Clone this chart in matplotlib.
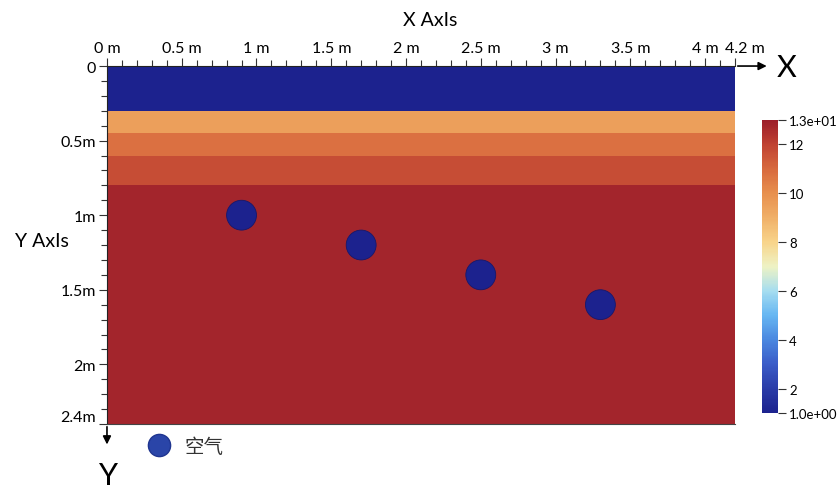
"""
plot.py
Layered ground model with buried air voids, drawn as a depth section
(x to the right, depth downward) with a custom blue-to-red colour scale.
"""

import numpy as np
import matplotlib

matplotlib.use("Agg")
import matplotlib.pyplot as plt
from matplotlib.colors import LinearSegmentedColormap, Normalize
from matplotlib.patches import Circle
from matplotlib.lines import Line2D
from matplotlib.transforms import ScaledTranslation

plt.rcParams["font.family"] = ["Lato", "Noto Sans CJK SC"]

# --- data -----------------------------------------------------------------
X_EXTENT = [0.0, 4.2]                               # m
layer_edges = [0.0, 0.3, 0.45, 0.6, 0.8, 2.4]       # depth of layer bounds (m)
layer_values = [1.0, 9.5, 10.8, 11.7, 12.8]         # value of each layer

void_x = [0.9, 1.7, 2.5, 3.3]                       # void centres (m)
void_y = [1.0, 1.2, 1.4, 1.6]
void_r = [0.1, 0.1, 0.1, 0.1]
void_value = 1.0
void_label = "空气"

x_ticks = [0, 0.5, 1, 1.5, 2, 2.5, 3, 3.5, 4, 4.2]
x_tick_labels = ["0 m", "0.5 m", "1 m", "1.5 m", "2 m", "2.5 m",
                 "3 m", "3.5 m", "4 m", "4.2 m"]
y_ticks = [0, 0.5, 1, 1.5, 2, 2.4]
y_tick_labels = ["0", "0.5m", "1m", "1.5m", "2m", "2.4m"]

cbar_ticks = [1, 2, 4, 6, 8, 10, 12, 13]
cbar_tick_labels = ["1.0e+00", "2", "4", "6", "8", "10", "12", "1.3e+01"]
VMIN, VMAX = 1.0, 13.0

# colour scale nodes (value, colour)
cmap_nodes = [
    (1.0, "#1c228e"), (2.0, "#2a3ca8"), (3.0, "#3a5cc8"), (4.0, "#4a88e0"),
    (5.0, "#66b6f2"), (6.0, "#a6ddf0"), (7.0, "#eef2c4"), (8.0, "#f8d48a"),
    (9.0, "#f0b068"), (10.0, "#e8904e"), (11.0, "#d86a3e"), (12.0, "#c04232"),
    (13.0, "#9c1e2a"),
]
cmap = LinearSegmentedColormap.from_list(
    "ground", [((v - VMIN) / (VMAX - VMIN), c) for v, c in cmap_nodes])
norm = Normalize(VMIN, VMAX)

# --- figure -----------------------------------------------------------------
fig = plt.figure(figsize=(8.39, 4.89), dpi=100)
ax = fig.add_axes([0.1275, 0.1309, 0.7485, 0.732])

grid = np.array(layer_values).reshape(-1, 1)
mesh = ax.pcolormesh(X_EXTENT, layer_edges, grid, cmap=cmap, norm=norm,
                     shading="flat")

for cx, cy, r in zip(void_x, void_y, void_r):
    ax.add_patch(Circle((cx, cy), r, facecolor=cmap(norm(void_value)),
                        edgecolor="#17186a", linewidth=0.6, zorder=3))

ax.set_xlim(X_EXTENT)
ax.set_ylim(layer_edges[-1], layer_edges[0])

# ticks: x on top, y on left
ax.xaxis.tick_top()
ax.set_xticks(x_ticks)
ax.set_xticklabels(x_tick_labels, fontsize=11.5)
ax.set_xticks(np.arange(0, 4.21, 0.1), minor=True)
ax.set_yticks(y_ticks)
ax.set_yticklabels(y_tick_labels, fontsize=11.5)
ax.set_yticks(np.arange(0, 2.41, 0.1), minor=True)
ax.tick_params(which="major", length=6, width=0.8, color="#333333", pad=2)
ax.tick_params(which="minor", length=4, width=0.8, color="#333333")
ax.get_yticklabels()[-1].set_va("bottom")

# the last two x labels sit close together; nudge the end label right
last = ax.xaxis.get_major_ticks()[-1].label2
last.set_transform(last.get_transform()
                   + ScaledTranslation(10 / 100, 0, fig.dpi_scale_trans))

ax.spines["right"].set_visible(False)
ax.spines["bottom"].set_color("#444444")
ax.spines["top"].set_color("#222222")
ax.spines["left"].set_color("#222222")

# axis arrows
ax.annotate("", xy=(1.055, 1.0), xytext=(1.0, 1.0), xycoords="axes fraction",
            arrowprops=dict(arrowstyle="-|>", color="black", lw=1.2,
                            mutation_scale=12), annotation_clip=False)
ax.annotate("", xy=(0.0, -0.065), xytext=(0.0, 0.0), xycoords="axes fraction",
            arrowprops=dict(arrowstyle="-|>", color="black", lw=1.2,
                            mutation_scale=12), annotation_clip=False)
fig.text(787 / 839, 1 - 68 / 489, "X", fontsize=22, ha="center", va="center")
fig.text(108 / 839, 1 - 476 / 489, "Y", fontsize=22, ha="center", va="center")

fig.text(430 / 839, 1 - 20 / 489, "X AxIs", fontsize=14, ha="center", va="center")
fig.text(42 / 839, 1 - 242 / 489, "Y AxIs", fontsize=14, ha="center", va="center")

# legend for the air voids
handle = Line2D([], [], marker="o", linestyle="", markersize=16,
                markerfacecolor="#2a45a8", markeredgecolor="#1f3590")
leg = fig.legend([handle], [void_label], loc="center left",
                 bbox_to_anchor=(132 / 839, 1 - 447 / 489), frameon=False,
                 fontsize=14, handletextpad=0.3, borderaxespad=0)
for t in leg.get_texts():
    t.set_color("#333333")

# colour bar
cax = fig.add_axes([762 / 839, 1 - 414 / 489, 16 / 839, 293 / 489])
cbar = fig.colorbar(mesh, cax=cax)
cbar.set_ticks(cbar_ticks)
cbar.set_ticklabels(cbar_tick_labels)
cbar.outline.set_visible(False)
cax.tick_params(length=6, width=0.8, color="#333333", labelsize=9.5, pad=2)

fig.savefig("out.png", dpi=100)
